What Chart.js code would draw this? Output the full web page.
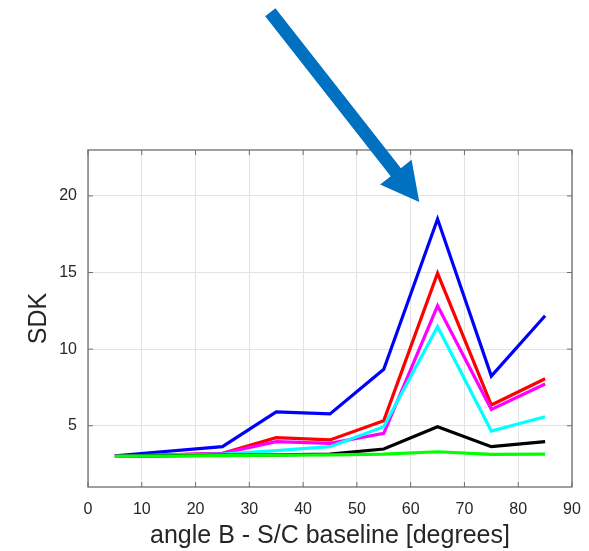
<!DOCTYPE html>
<html>
<head>
<meta charset="utf-8">
<script src="https://cdn.jsdelivr.net/npm/chart.js@4.4.1/dist/chart.umd.min.js"></script>
<style>
  html, body { margin: 0; padding: 0; background: #fff; }
  #wrap { width: 589px; height: 551px; }
</style>
</head>
<body>
<div id="wrap"><canvas id="sdk"></canvas></div>
<script>
// angle B - S/C baseline [degrees]
const angles = [5, 25, 35, 45, 55, 65, 75, 85]

// SDK values per curve
const blueVals    = [3.04, 3.63, 5.91, 5.77, 8.68, 18.49, 8.24, 12.18]
const redVals     = [3.0, 3.2, 4.22, 4.07, 5.33, 14.95, 6.35, 8.07]
const magentaVals = [3.0, 3.2, 3.96, 3.85, 4.5, 12.83, 6.07, 7.72]
const cyanVals    = [3.0, 3.15, 3.37, 3.63, 4.93, 11.46, 4.65, 5.59]
const blackVals   = [3.0, 3.08, 3.1, 3.15, 3.48, 4.93, 3.63, 3.96]
const greenVals   = [3.0, 3.05, 3.08, 3.1, 3.15, 3.3, 3.13, 3.15]

const xTicks = [0, 10, 20, 30, 40, 50, 60, 70, 80, 90]
const yTicks = [5, 10, 15, 20]

// arrow annotation in data units (tail -> tip)
const arrowTail = {x: 33.9, y: 32.0}
const arrowTip = {x: 61.6, y: 19.6}

const fontFam = "'Liberation Sans', Arial, Helvetica, sans-serif"
const axisCol = '#262626'

function series(label, vals, color){
    return {
        label: label,
        data: vals.map((v, i) => ({x: angles[i], y: v})),
        borderColor: color,
        backgroundColor: color,
        borderWidth: 3.2,
        pointRadius: 0,
        tension: 0,
        fill: false
    }
}

// box with inward ticks on all four sides, like a MATLAB axes
const boxPlugin = {
    id: 'box',
    afterDatasetsDraw(chart){
        const {ctx, chartArea: a, scales} = chart
        ctx.save()
        ctx.strokeStyle = '#6e6e6e'
        ctx.lineWidth = 1.3
        ctx.strokeRect(a.left, a.top, a.right - a.left, a.bottom - a.top)
        ctx.lineWidth = 1
        ctx.beginPath()
        xTicks.forEach(t => {
            const px = scales.x.getPixelForValue(t)
            ctx.moveTo(px, a.bottom); ctx.lineTo(px, a.bottom - 5)
            ctx.moveTo(px, a.top); ctx.lineTo(px, a.top + 5)
        })
        yTicks.forEach(t => {
            const py = scales.y.getPixelForValue(t)
            ctx.moveTo(a.left, py); ctx.lineTo(a.left + 5, py)
            ctx.moveTo(a.right, py); ctx.lineTo(a.right - 5, py)
        })
        ctx.stroke()
        ctx.restore()
    }
}

const arrowPlugin = {
    id: 'arrow',
    afterDraw(chart){
        const {ctx, scales} = chart
        const x0 = scales.x.getPixelForValue(arrowTail.x), y0 = scales.y.getPixelForValue(arrowTail.y)
        const x1 = scales.x.getPixelForValue(arrowTip.x), y1 = scales.y.getPixelForValue(arrowTip.y)
        const ang = Math.atan2(y1 - y0, x1 - x0)
        const headLen = 38, headHalf = 20, shaft = 13
        const bx = x1 - headLen * Math.cos(ang), by = y1 - headLen * Math.sin(ang)
        const nx = -Math.sin(ang), ny = Math.cos(ang)
        ctx.save()
        ctx.fillStyle = '#0070c0'
        ctx.beginPath()
        ctx.moveTo(x0 + nx * shaft / 2, y0 + ny * shaft / 2)
        ctx.lineTo(bx + nx * shaft / 2, by + ny * shaft / 2)
        ctx.lineTo(bx + nx * headHalf, by + ny * headHalf)
        ctx.lineTo(x1, y1)
        ctx.lineTo(bx - nx * headHalf, by - ny * headHalf)
        ctx.lineTo(bx - nx * shaft / 2, by - ny * shaft / 2)
        ctx.lineTo(x0 - nx * shaft / 2, y0 - ny * shaft / 2)
        ctx.closePath()
        ctx.fill()
        ctx.restore()
    }
}

const ctx = document.getElementById('sdk').getContext('2d')
new Chart(ctx, {
    type: 'line',
    data: {
        datasets: [
            series('green', greenVals, '#00ff00'),
            series('black', blackVals, '#000000'),
            series('cyan', cyanVals, '#00ffff'),
            series('magenta', magentaVals, '#ff00ff'),
            series('red', redVals, '#ff0000'),
            series('blue', blueVals, '#0000ff')
        ]
    },
    options: {
        responsive: true,
        maintainAspectRatio: false,
        animation: false,
        layout: { padding: {top: 150, right: 17, bottom: 0, left: 0} },
        plugins: { legend: {display: false}, tooltip: {enabled: false} },
        scales: {
            x: {
                type: 'linear',
                min: 0, max: 90,
                afterBuildTicks: s => { s.ticks = xTicks.map(v => ({value: v})) },
                afterFit: s => { s.height = 64; s.paddingLeft = 0; s.paddingRight = 0 },
                grid: { color: '#e3e3e3', lineWidth: 1, drawTicks: false },
                border: { display: false },
                ticks: { padding: 13, color: axisCol, font: {family: fontFam, size: 16}, maxRotation: 0 },
                title: {
                    display: true,
                    text: 'angle B - S/C baseline [degrees]',
                    color: axisCol,
                    font: {family: fontFam, size: 25},
                    padding: {top: 0, bottom: 0}
                }
            },
            y: {
                type: 'linear',
                min: 1, max: 23,
                afterBuildTicks: s => { s.ticks = yTicks.map(v => ({value: v})) },
                afterFit: s => { s.width = 88; s.paddingTop = 0; s.paddingBottom = 0 },
                grid: { color: '#e3e3e3', lineWidth: 1, drawTicks: false },
                border: { display: false },
                ticks: { padding: 11, color: axisCol, font: {family: fontFam, size: 16} },
                title: {
                    display: true,
                    text: 'SDK',
                    color: axisCol,
                    font: {family: fontFam, size: 25},
                    padding: {top: 24, bottom: 0}
                }
            }
        }
    },
    plugins: [boxPlugin, arrowPlugin]
})
</script>
</body>
</html>
